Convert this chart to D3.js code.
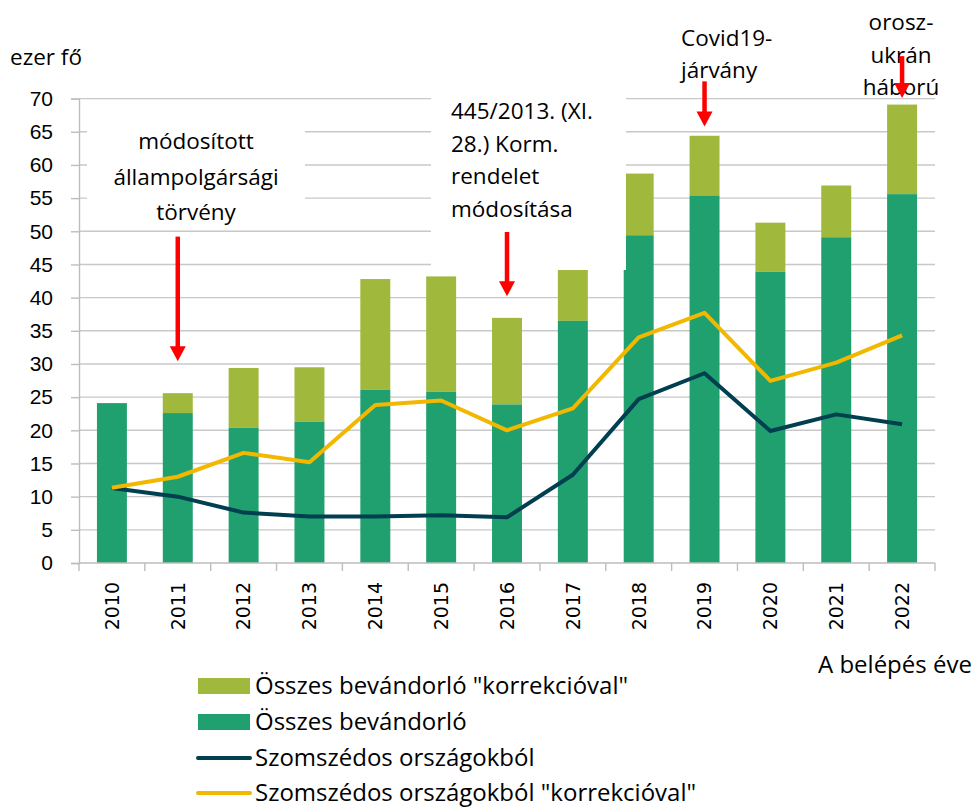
<!DOCTYPE html>
<html>
<head>
<meta charset="utf-8">
<script src="https://cdn.jsdelivr.net/npm/d3@7"></script>
<style>
  body { margin: 0; background: #fff; }
  svg { display: block; font-family: "Open Sans", sans-serif; }
  .tick-label { font-size: 21px; fill: #000; }
  .year-label { font-family: "DejaVu Sans", sans-serif; font-size: 19px; fill: #000; }
  .note { font-size: 22.5px; fill: #000; }
  .legend-label { font-size: 24px; fill: #000; }
</style>
</head>
<body>
<svg id="chart"></svg>
<script>
var width = 974;
var height = 808;

// data (ezer fő)
var years = ['2010', '2011', '2012', '2013', '2014', '2015', '2016', '2017', '2018', '2019', '2020', '2021', '2022'];
var osszes = [24.1, 22.6, 20.4, 21.3, 26.1, 25.8, 23.9, 36.5, 49.4, 55.4, 43.9, 49.1, 55.6];
var osszesKorr = [24.1, 25.6, 29.4, 29.5, 42.8, 43.2, 36.95, 44.2, 58.7, 64.4, 51.3, 56.9, 69.1];
var szomszed = [11.3, 10.0, 7.6, 7.0, 7.0, 7.2, 6.9, 13.3, 24.7, 28.6, 19.9, 22.4, 20.9];
var szomszedKorr = [11.35, 13.0, 16.6, 15.2, 23.8, 24.5, 20.0, 23.3, 34.0, 37.7, 27.45, 30.2, 34.3];
var yTicks = [0, 5, 10, 15, 20, 25, 30, 35, 40, 45, 50, 55, 60, 65, 70];

var legendLabels = ['Összes bevándorló "korrekcióval"', 'Összes bevándorló', 'Szomszédos országokból', 'Szomszédos országokból "korrekcióval"'];

var colors = {
  korr: '#a0b93c',
  osszes: '#21a06f',
  szomszed: '#003f50',
  szomszedKorr: '#f2b800',
  grid: '#c8c8c8',
  axis: '#bdbdbd',
  arrow: '#ff0000'
};

var svg = d3.select('#chart').attr('width', width).attr('height', height);

var x = d3.scaleBand().domain(years).range([79, 935]).paddingInner(0.545).paddingOuter(0.2725);
var y = d3.scaleLinear().domain([0, 70]).range([563, 98.6]);
var step = x.step();
var bw = x.bandwidth();
var cx = function(yr) { return x(yr) + bw / 2; };

// gridlines
svg.append('g').selectAll('line').data(yTicks.slice(1)).enter().append('line')
  .attr('x1', 79).attr('x2', 935)
  .attr('y1', function(d) { return y(d); }).attr('y2', function(d) { return y(d); })
  .attr('stroke', colors.grid).attr('stroke-width', 1.4);

// y axis
var yAxis = svg.append('g').attr('transform', 'translate(79,0)')
  .call(d3.axisLeft(y).tickValues(yTicks).tickSize(8).tickPadding(18));
yAxis.select('.domain').attr('stroke', colors.axis).attr('stroke-width', 1.4);
yAxis.selectAll('.tick line').attr('stroke', colors.axis).attr('stroke-width', 1.4);
yAxis.selectAll('.tick text').attr('class', 'tick-label').attr('font-family', null).attr('font-size', null);

svg.append('text').attr('class', 'note').attr('x', 10).attr('y', 65).text('ezer fő');

// bars
var barData = years.map(function(yr, i) {
  return { year: yr, base: osszes[i], total: osszesKorr[i] };
});
var bars = svg.append('g');
bars.selectAll('.korr').data(barData).enter().append('rect')
  .attr('x', function(d) { return x(d.year); })
  .attr('width', bw)
  .attr('y', function(d) { return y(d.total); })
  .attr('height', function(d) { return y(d.base) - y(d.total); })
  .attr('fill', colors.korr);
bars.selectAll('.base').data(barData).enter().append('rect')
  .attr('x', function(d) { return x(d.year); })
  .attr('width', bw)
  .attr('y', function(d) { return y(d.base); })
  .attr('height', function(d) { return y(0) - y(d.base); })
  .attr('fill', colors.osszes);

// x axis
svg.append('line').attr('x1', 79).attr('x2', 935).attr('y1', y(0)).attr('y2', y(0))
  .attr('stroke', colors.axis).attr('stroke-width', 1.4);
var bounds = years.map(function(yr) { return x(yr) - (step - bw) / 2; }).concat([935]);
svg.append('g').selectAll('line').data(bounds).enter().append('line')
  .attr('x1', function(d) { return d; }).attr('x2', function(d) { return d; })
  .attr('y1', y(0)).attr('y2', y(0) + 8)
  .attr('stroke', colors.axis).attr('stroke-width', 1.4);
svg.append('g').selectAll('text').data(years).enter().append('text')
  .attr('class', 'year-label')
  .attr('transform', function(d) { return 'translate(' + cx(d) + ',' + 582 + ') rotate(-90)'; })
  .attr('text-anchor', 'end')
  .attr('dy', '0.36em')
  .text(function(d) { return d; });

// annotation boxes hide the gridlines behind the text
var boxes = [
  { x: 87, y: 105, w: 218, h: 123 },
  { x: 431, y: 85, w: 195, h: 185 }
];
svg.append('g').selectAll('rect').data(boxes).enter().append('rect')
  .attr('x', function(d) { return d.x; }).attr('y', function(d) { return d.y; })
  .attr('width', function(d) { return d.w; }).attr('height', function(d) { return d.h; })
  .attr('fill', '#fff');

// lines
var line = d3.line().x(function(d) { return cx(d[0]); }).y(function(d) { return y(d[1]); });
svg.append('path').datum(d3.zip(years, szomszed)).attr('d', line)
  .attr('fill', 'none').attr('stroke', colors.szomszed).attr('stroke-width', 4).attr('stroke-linejoin', 'round');
svg.append('path').datum(d3.zip(years, szomszedKorr)).attr('d', line)
  .attr('fill', 'none').attr('stroke', colors.szomszedKorr).attr('stroke-width', 4).attr('stroke-linejoin', 'round');

// annotations
var notes = [
  { year: '2011', lines: ['módosított', 'állampolgársági', 'törvény'], anchor: 'middle', tx: 196, ty: 149, lh: 35.5, from: 49.2, to: 30.4 },
  { year: '2016', lines: ['445/2013. (XI.', '28.) Korm.', 'rendelet', 'módosítása'], anchor: 'start', tx: 451, ty: 119, lh: 32.5, from: 49.9, to: 40.2 },
  { year: '2019', lines: ['Covid19-', 'járvány'], anchor: 'start', tx: 681, ty: 46, lh: 32, from: 72.6, to: 65.8 },
  { year: '2022', lines: ['orosz-', 'ukrán', 'háború'], anchor: 'middle', tx: 901, ty: 30, lh: 32.5, from: 76.4, to: 70.1 }
];
var noteG = svg.append('g').selectAll('g').data(notes).enter().append('g');
noteG.each(function(n) {
  var g = d3.select(this);
  n.lines.forEach(function(t, i) {
    g.append('text').attr('class', 'note').attr('x', n.tx).attr('y', n.ty + i * n.lh)
      .attr('text-anchor', n.anchor).text(t);
  });
  var ax = cx(n.year);
  var y1 = y(n.from);
  var y2 = y(n.to);
  g.append('line').attr('x1', ax).attr('x2', ax).attr('y1', y1).attr('y2', y2 - 12)
    .attr('stroke', colors.arrow).attr('stroke-width', 4.5);
  g.append('path')
    .attr('d', 'M' + (ax - 8) + ',' + (y2 - 15) + 'L' + (ax + 8) + ',' + (y2 - 15) + 'L' + ax + ',' + y2 + 'Z')
    .attr('fill', colors.arrow);
});

// axis title
svg.append('text').attr('class', 'legend-label').attr('x', 818).attr('y', 673).text('A belépés éve');

// legend
var legendY = [686, 722, 758, 793];
var legend = svg.append('g').selectAll('g').data(legendLabels).enter().append('g')
  .attr('transform', function(d, i) { return 'translate(198,' + legendY[i] + ')'; });
legend.each(function(d, i) {
  var g = d3.select(this);
  if (i < 2) {
    g.append('rect').attr('x', 0).attr('y', -8).attr('width', 52).attr('height', 16)
      .attr('fill', i === 0 ? colors.korr : colors.osszes);
  } else {
    g.append('line').attr('x1', 0).attr('x2', 52).attr('y1', 0).attr('y2', 0)
      .attr('stroke', i === 2 ? colors.szomszed : colors.szomszedKorr)
      .attr('stroke-width', 4).attr('stroke-linecap', 'round');
  }
  g.append('text').attr('class', 'legend-label').attr('x', 57).attr('dy', '0.34em').text(d);
});
</script>
</body>
</html>
